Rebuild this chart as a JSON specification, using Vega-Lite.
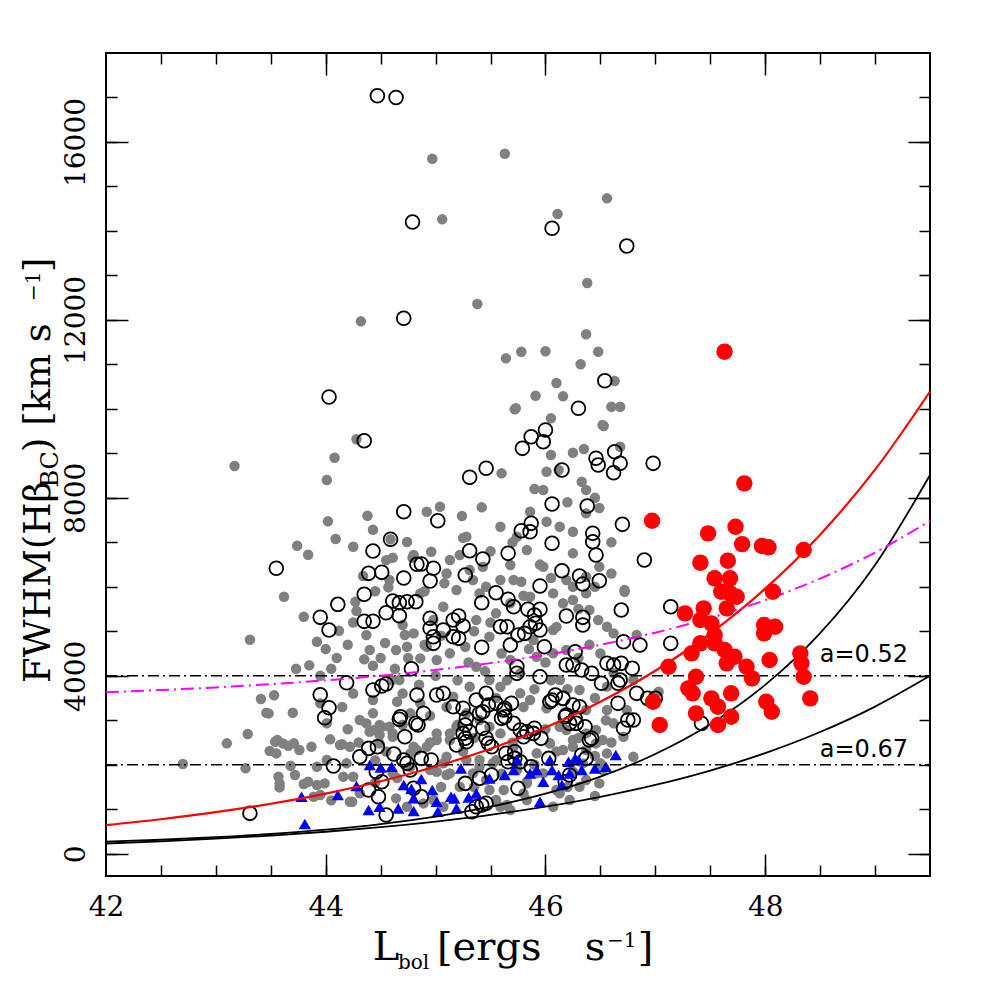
{
  "$schema": "https://vega.github.io/schema/vega-lite/v6.json",
  "autosize": {"type": "none"},
  "padding": {"left": 106, "top": 53, "right": 51, "bottom": 105},
  "width": 824,
  "height": 823,
  "background": "white",
  "config": {"view": {"stroke": "black", "strokeWidth": 2}, "font": "DejaVu Serif"},
  "datasets": {
    "gray": [
      {"x":44.97,"y":15624},{"x":45.63,"y":15736},{"x":46.56,"y":14733},{"x":46.11,"y":14380},{"x":45.06,"y":14261},{"x":46.38,"y":12829},{"x":45.38,"y":12357},{"x":44.32,"y":11968},{"x":46.37,"y":11676},{"x":45.78,"y":11285},{"x":45.64,"y":11136},{"x":46.00,"y":11294},{"x":46.48,"y":11285},{"x":46.32,"y":11002},{"x":46.63,"y":10626},{"x":46.10,"y":10581},{"x":45.91,"y":10296},{"x":46.16,"y":10282},{"x":45.73,"y":10013},{"x":46.60,"y":10049},{"x":46.68,"y":10049},{"x":43.17,"y":8715},{"x":44.28,"y":9316},{"x":44.08,"y":8902},{"x":44.01,"y":8401},{"x":44.38,"y":7598},{"x":44.02,"y":7472},{"x":44.43,"y":7284},{"x":44.09,"y":7075},{"x":44.59,"y":7068},{"x":44.74,"y":7007},{"x":43.74,"y":6924},{"x":43.84,"y":6722},{"x":44.61,"y":6654},{"x":44.79,"y":6654},{"x":44.58,"y":6153},{"x":44.34,"y":6243},{"x":44.57,"y":5989},{"x":43.62,"y":5777},{"x":44.27,"y":5665},{"x":44.28,"y":5456},{"x":43.80,"y":5328},{"x":44.12,"y":5013},{"x":44.70,"y":5141},{"x":43.31,"y":4811},{"x":43.92,"y":4766},{"x":44.37,"y":4916},{"x":44.40,"y":4579},{"x":44.54,"y":4737},{"x":44.64,"y":4579},{"x":44.72,"y":4916},{"x":44.35,"y":4370},{"x":44.43,"y":4226},{"x":43.73,"y":4159},{"x":43.85,"y":4235},{"x":44.05,"y":4159},{"x":44.63,"y":4159},{"x":43.41,"y":3478},{"x":43.53,"y":3561},{"x":43.46,"y":3170},{"x":43.70,"y":3170},{"x":44.65,"y":3417},{"x":44.44,"y":2781},{"x":44.51,"y":2855},{"x":44.40,"y":2743},{"x":43.10,"y":2482},{"x":43.29,"y":2691},{"x":43.49,"y":2309},{"x":43.56,"y":2556},{"x":43.66,"y":2428},{"x":43.71,"y":2482},{"x":43.76,"y":2331},{"x":43.87,"y":2405},{"x":44.04,"y":2572},{"x":44.15,"y":2459},{"x":42.70,"y":2016},{"x":43.27,"y":1920},{"x":43.68,"y":1978},{"x":43.92,"y":1956},{"x":43.57,"y":1731},{"x":43.58,"y":1492},{"x":43.80,"y":1567},{"x":43.99,"y":1582},{"x":43.89,"y":1281},{"x":44.24,"y":1169},
      {"x":45.72,"y":9990},{"x":46.05,"y":9787},{"x":46.52,"y":9637},{"x":46.25,"y":9015},{"x":46.05,"y":8963},{"x":45.60,"y":8551},{"x":46.01,"y":8588},{"x":46.12,"y":8626},{"x":46.33,"y":8363},{"x":45.98,"y":8176},{"x":46.37,"y":8176},{"x":45.04,"y":7802},{"x":44.92,"y":7689},{"x":45.24,"y":7592},{"x":45.42,"y":7787},{"x":45.86,"y":7689},{"x":46.01,"y":7464},{"x":46.13,"y":7352},{"x":46.25,"y":7240},{"x":44.80,"y":6715},{"x":44.96,"y":6790},{"x":45.13,"y":6603},{"x":45.22,"y":6715},{"x":45.31,"y":6378},{"x":45.68,"y":6490},{"x":45.71,"y":6153},{"x":45.78,"y":6116},{"x":45.59,"y":6153},{"x":45.46,"y":6003},{"x":45.40,"y":5853},{"x":45.34,"y":6153},{"x":45.08,"y":6078},{"x":45.19,"y":5928},{"x":45.07,"y":5554},{"x":44.86,"y":5853},{"x":46.72,"y":5928},{"x":46.07,"y":5853},{"x":46.16,"y":5629},{"x":46.25,"y":5704},{"x":46.37,"y":5853},{"x":46.40,"y":5479},{"x":46.48,"y":5254},{"x":46.56,"y":5104},{"x":46.62,"y":4954},{"x":46.07,"y":5029},{"x":45.55,"y":5404},{"x":45.37,"y":5254},{"x":45.49,"y":4879},{"x":45.27,"y":4655},{"x":45.13,"y":4505},{"x":45.01,"y":4355},{"x":44.86,"y":4392},{"x":44.74,"y":4655},{"x":45.68,"y":4355},{"x":45.92,"y":4430},{"x":46.07,"y":4505},{"x":46.19,"y":4580},{"x":45.49,"y":3905},{"x":45.31,"y":3755},{"x":45.16,"y":3531},{"x":44.86,"y":3381},{"x":44.77,"y":3156},{"x":45.77,"y":3606},{"x":45.86,"y":3456},{"x":46.01,"y":3268},{"x":45.49,"y":2856},{"x":45.59,"y":2706},{"x":45.13,"y":2706},{"x":45.01,"y":2557},{"x":44.92,"y":2407},{"x":44.83,"y":2332},{"x":45.07,"y":2032},{"x":45.40,"y":2107},{"x":45.52,"y":2032},{"x":45.62,"y":1433},{"x":45.74,"y":1882},{"x":45.83,"y":1583},{"x":46.46,"y":2781},{"x":46.52,"y":2557},{"x":46.62,"y":2931},{"x":46.74,"y":3231},{"x":46.56,"y":3231},{"x":46.50,"y":2032},{"x":46.25,"y":1845},{"x":46.37,"y":1657},{"x":46.13,"y":1358},{"x":45.83,"y":1208},{"x":45.59,"y":1058},{"x":45.68,"y":983},{"x":45.22,"y":1507},
      {"x":45.68,"y":5629},{"x":45.86,"y":5779},{"x":45.89,"y":4805},{"x":45.77,"y":4055},{"x":45.59,"y":3755},{"x":45.37,"y":4205},{"x":46.13,"y":3905},{"x":46.31,"y":3681},{"x":46.37,"y":3231},{"x":45.28,"y":3156},{"x":45.40,"y":3006},{"x":45.71,"y":2407},{"x":45.92,"y":2257},{"x":46.04,"y":2482},{"x":46.13,"y":2856},{"x":46.25,"y":2407},{"x":46.37,"y":2706},{"x":45.13,"y":1807},{"x":44.95,"y":1882},{"x":44.77,"y":1957},{"x":45.34,"y":1807},{"x":45.46,"y":1657},{"x":45.98,"y":1807},{"x":46.19,"y":2781},{"x":46.56,"y":3756},{"x":46.80,"y":3905},{"x":46.62,"y":4055},{"x":44.98,"y":5254},{"x":44.80,"y":4954},{"x":44.92,"y":4655},{"x":45.43,"y":6453},{"x":45.83,"y":6828},{"x":45.98,"y":6453},{"x":46.19,"y":6153},{"x":46.37,"y":6228},{"x":46.49,"y":6453},{"x":46.25,"y":6753},{"x":45.28,"y":7127},{"x":45.59,"y":7352},{"x":45.74,"y":7127},{"x":46.37,"y":7652},
      {"x":44.70,"y":3600},{"x":44.85,"y":3800},{"x":45.00,"y":4000},{"x":45.10,"y":3300},{"x":45.20,"y":3900},{"x":45.30,"y":4300},{"x":45.45,"y":4100},{"x":45.55,"y":3500},{"x":45.65,"y":3900},{"x":45.80,"y":3300},{"x":45.90,"y":3700},{"x":46.05,"y":3900},{"x":46.20,"y":3700},{"x":46.30,"y":4400},{"x":46.45,"y":3500},{"x":46.55,"y":3000},{"x":46.40,"y":4700},{"x":46.50,"y":4500},{"x":44.75,"y":4400},{"x":44.90,"y":4700},{"x":45.05,"y":4900},{"x":45.35,"y":5000},{"x":45.50,"y":5200},{"x":45.60,"y":4500},{"x":45.85,"y":4600},{"x":46.00,"y":4300},{"x":46.10,"y":5100},{"x":46.30,"y":5500},{"x":46.45,"y":6000},{"x":46.60,"y":6300},{"x":45.95,"y":6500},{"x":45.70,"y":7000},{"x":45.50,"y":6800},{"x":45.25,"y":7100},{"x":45.10,"y":6300},{"x":44.90,"y":5900},{"x":44.55,"y":6600},{"x":44.45,"y":5900},{"x":44.50,"y":4400},{"x":44.60,"y":3900},{"x":44.95,"y":3100},{"x":45.20,"y":2900},{"x":45.35,"y":2600},{"x":45.70,"y":2500},{"x":46.00,"y":2800},{"x":46.10,"y":2300},{"x":46.30,"y":2600},{"x":46.45,"y":2200},{"x":46.60,"y":2500},{"x":45.55,"y":2100},{"x":45.25,"y":2300},{"x":44.95,"y":2500},{"x":44.70,"y":2900},{"x":44.55,"y":2300},{"x":44.45,"y":2100},{"x":44.30,"y":2500},{"x":44.20,"y":2800},{"x":44.15,"y":3300},{"x":44.25,"y":3600},{"x":44.10,"y":4400},{"x":44.20,"y":4700},{"x":44.25,"y":5200},{"x":44.00,"y":4600},{"x":43.95,"y":4000},{"x":44.05,"y":1200},{"x":44.45,"y":1600},{"x":44.65,"y":1700},{"x":45.05,"y":1500},{"x":45.35,"y":1500},{"x":45.60,"y":1800},{"x":45.90,"y":2000},{"x":46.20,"y":1500},{"x":46.45,"y":1300},{"x":45.80,"y":5800},{"x":46.05,"y":6200},{"x":46.25,"y":6000},{"x":46.60,"y":7000},{"x":46.20,"y":7900},{"x":45.90,"y":8200},{"x":46.35,"y":9100},{"x":46.45,"y":8000},{"x":44.25,"y":6900},
      {"x":44.31,"y":3006},{"x":44.43,"y":3156},{"x":44.49,"y":2669},{"x":44.61,"y":2706},{"x":44.25,"y":1732},{"x":44.31,"y":1358},{"x":44.61,"y":1807},{"x":44.64,"y":1245},{"x":44.80,"y":2407},{"x":44.19,"y":2032},{"x":44.67,"y":3905},{"x":44.43,"y":3456},{"x":43.95,"y":3381},{"x":44.01,"y":2931},
      {"x":43.48,"y":3155},{"x":43.54,"y":2518},{"x":43.61,"y":2481},{"x":43.55,"y":2256},{"x":43.58,"y":1582},{"x":43.72,"y":1769},{"x":43.84,"y":1619},{"x":43.92,"y":1544},{"x":44.01,"y":2106},{"x":44.13,"y":2443},{"x":44.22,"y":2406},{"x":43.95,"y":1320},{"x":44.16,"y":1731},{"x":44.22,"y":1170},{"x":44.37,"y":2930},{"x":44.49,"y":2893},{"x":44.58,"y":2856},{"x":44.61,"y":2631},{"x":44.49,"y":2481},{"x":44.77,"y":2256},{"x":44.74,"y":1057},{"x":44.89,"y":1132},{"x":44.98,"y":1207},{"x":45.07,"y":1057},{"x":45.01,"y":1844},{"x":45.10,"y":1769},{"x":45.10,"y":2181},{"x":45.13,"y":2556},{"x":45.19,"y":2856},{"x":45.01,"y":2706},{"x":45.28,"y":2106},{"x":45.40,"y":1956},{"x":45.49,"y":1432},{"x":45.55,"y":1207},{"x":45.65,"y":1095},{"x":45.80,"y":1357},{"x":45.83,"y":1619},{"x":45.92,"y":1807},{"x":45.74,"y":1919},{"x":46.04,"y":2481},{"x":46.16,"y":2331},{"x":46.25,"y":2556},{"x":46.37,"y":2331},{"x":46.46,"y":2481},{"x":46.56,"y":2256},{"x":46.34,"y":2031},{"x":46.52,"y":1881},{"x":46.07,"y":1057},{"x":46.10,"y":1432},{"x":46.22,"y":1207},{"x":46.31,"y":1507},{"x":46.49,"y":1582},{"x":46.71,"y":2631},{"x":46.80,"y":2181},
      {"x":46.53,"y":9615},{"x":46.68,"y":9149},{"x":46.72,"y":5890},{"x":46.83,"y":4916},{"x":46.49,"y":7771},{"x":47.03,"y":3642}
    ],
    "open": [
      {"x":44.47,"y":17040},{"x":44.64,"y":17000},{"x":44.79,"y":14200},{"x":46.06,"y":14059},{"x":46.74,"y":13661},{"x":44.71,"y":12036},{"x":46.54,"y":10633},{"x":44.03,"y":10267},{"x":46.30,"y":10013},
      {"x":44.35,"y":9284},{"x":45.87,"y":9374},{"x":46.00,"y":9525},{"x":45.79,"y":9113},{"x":45.98,"y":9262},{"x":46.46,"y":8889},{"x":46.63,"y":9037},{"x":46.68,"y":8776},{"x":46.62,"y":8565},{"x":46.48,"y":8738},{"x":46.98,"y":8776},{"x":46.15,"y":8626},{"x":45.46,"y":8664},{"x":45.31,"y":8461},
      {"x":44.71,"y":7688},{"x":46.06,"y":7861},{"x":46.38,"y":7816},{"x":46.70,"y":7405},{"x":45.02,"y":7486},{"x":45.78,"y":7261},{"x":45.87,"y":7427},{"x":45.86,"y":7239},{"x":46.43,"y":7203},{"x":46.43,"y":7014},{"x":46.06,"y":6978},
      {"x":44.59,"y":7068},{"x":44.43,"y":6805},{"x":44.83,"y":6506},{"x":43.55,"y":6416},{"x":44.39,"y":6303},{"x":44.51,"y":6326},{"x":44.71,"y":6198},{"x":46.90,"y":6602},{"x":46.46,"y":6715},{"x":45.31,"y":6811},{"x":45.43,"y":6625},{"x":45.66,"y":6753},{"x":44.87,"y":6513},{"x":44.98,"y":6416},{"x":44.95,"y":6130},{"x":45.27,"y":6265},{"x":46.15,"y":6362},{"x":46.31,"y":6243},{"x":46.34,"y":6063},{"x":46.49,"y":6137},{"x":45.95,"y":6018},
      {"x":44.35,"y":5831},{"x":44.11,"y":5606},{"x":44.61,"y":5681},{"x":44.67,"y":5642},{"x":44.74,"y":5665},{"x":44.82,"y":5665},{"x":44.55,"y":5418},{"x":44.67,"y":5350},{"x":43.95,"y":5314},{"x":44.03,"y":5029},{"x":44.35,"y":5224},{"x":44.43,"y":5224},{"x":45.55,"y":5867},{"x":45.42,"y":5642},{"x":45.66,"y":5719},{"x":45.71,"y":5552},{"x":45.84,"y":5494},{"x":45.90,"y":5366},{"x":45.95,"y":5494},{"x":45.91,"y":5179},{"x":46.19,"y":5343},{"x":46.34,"y":5314},{"x":46.34,"y":5141},{"x":46.69,"y":5478},{"x":47.14,"y":5553},
      {"x":44.95,"y":5292},{"x":44.95,"y":5067},{"x":44.98,"y":4878},{"x":44.98,"y":4730},{"x":45.07,"y":5029},{"x":45.16,"y":5254},{"x":45.21,"y":5343},{"x":45.25,"y":5119},{"x":45.16,"y":4878},{"x":45.21,"y":4842},{"x":45.42,"y":4640},{"x":45.59,"y":5103},{"x":45.65,"y":5103},{"x":45.68,"y":4692},{"x":45.75,"y":4916},{"x":45.81,"y":4954},{"x":45.86,"y":5103},{"x":45.95,"y":5029},{"x":45.99,"y":4653},{"x":46.27,"y":4541},{"x":46.71,"y":4766},{"x":46.86,"y":4692},{"x":47.14,"y":4730},
      {"x":44.78,"y":4159},{"x":45.74,"y":4204},{"x":45.74,"y":4055},{"x":45.95,"y":3979},{"x":46.19,"y":4242},{"x":46.25,"y":4242},{"x":46.33,"y":4130},{"x":46.42,"y":4055},{"x":46.56,"y":4280},{"x":46.62,"y":4242},{"x":46.69,"y":4280},{"x":46.79,"y":4168},{"x":46.68,"y":3905},
      {"x":44.19,"y":3844},{"x":44.43,"y":3680},{"x":44.51,"y":3770},{"x":44.55,"y":3815},{"x":43.95,"y":3574},{"x":44.83,"y":3568},{"x":45.01,"y":3568},{"x":45.07,"y":3606},{"x":46.51,"y":3831},{"x":46.66,"y":3831},{"x":46.83,"y":3606},{"x":46.93,"y":3493},{"x":47.00,"y":3493},
      {"x":44.03,"y":3282},{"x":43.99,"y":3057},{"x":44.67,"y":3021},{"x":44.72,"y":2630},{"x":44.82,"y":2931},{"x":44.68,"y":3080},{"x":44.89,"y":3156},{"x":44.84,"y":2893},{"x":45.37,"y":3455},{"x":45.43,"y":3192},{"x":45.46,"y":3606},{"x":45.40,"y":3156},{"x":45.48,"y":3343},{"x":45.63,"y":3269},{"x":45.63,"y":3080},{"x":45.71,"y":2931},{"x":45.77,"y":2781},{"x":45.83,"y":2743},{"x":45.90,"y":2819},{"x":45.96,"y":2594},{"x":46.06,"y":3455},{"x":46.09,"y":3568},{"x":46.16,"y":3493},{"x":46.25,"y":3343},{"x":46.18,"y":3080},{"x":46.22,"y":2931},{"x":46.28,"y":2931},{"x":46.36,"y":2855},{"x":46.42,"y":2594},{"x":46.66,"y":3381},{"x":46.80,"y":3006},{"x":46.71,"y":2819},{"x":46.75,"y":3006},{"x":47.42,"y":2931},{"x":45.28,"y":3044},{"x":45.27,"y":2893},{"x":45.31,"y":2743},{"x":45.27,"y":2594},{"x":45.19,"y":2443},{"x":45.16,"y":3305},{"x":45.25,"y":3269},{"x":45.62,"y":3231},{"x":45.60,"y":3044},{"x":45.55,"y":3381},{"x":45.69,"y":3381},{"x":46.04,"y":3417},{"x":46.31,"y":3305},{"x":46.19,"y":3118},{"x":46.27,"y":3044},
      {"x":44.39,"y":2369},{"x":44.47,"y":2405},{"x":44.31,"y":2180},{"x":44.62,"y":2241},{"x":44.71,"y":2106},{"x":44.07,"y":1971},{"x":44.87,"y":2144},{"x":44.96,"y":2106},{"x":44.74,"y":2032},{"x":44.77,"y":1882},{"x":44.46,"y":1843},{"x":44.51,"y":1619},{"x":44.39,"y":1432},{"x":44.48,"y":1281},{"x":44.55,"y":870},{"x":43.31,"y":908},
      {"x":45.64,"y":2257},{"x":45.72,"y":2293},{"x":45.46,"y":2594},{"x":45.48,"y":2482},{"x":45.43,"y":2819},{"x":45.51,"y":2405},{"x":45.25,"y":2706},{"x":45.28,"y":2518},{"x":45.72,"y":2144},{"x":45.66,"y":2068},{"x":45.77,"y":2068},{"x":45.87,"y":1956},{"x":46.03,"y":2144},{"x":46.33,"y":2219},{"x":46.37,"y":2144},{"x":46.40,"y":2556},{"x":45.80,"y":2630},{"x":45.89,"y":2706},
      {"x":45.27,"y":1582},{"x":45.40,"y":1695},{"x":45.37,"y":1057},{"x":45.42,"y":1095},{"x":45.51,"y":1769},{"x":45.75,"y":1470},{"x":46.18,"y":1619},{"x":46.22,"y":1769},{"x":45.33,"y":944},{"x":45.46,"y":1133},{"x":44.80,"y":1470},{"x":44.87,"y":1281}
    ],
    "tri": [
      {"x":43.78,"y":1281},{"x":43.81,"y":668},{"x":44.11,"y":1320},{"x":44.28,"y":1522},{"x":44.40,"y":1994},{"x":44.50,"y":1940},{"x":44.60,"y":1956},{"x":44.39,"y":982},{"x":44.49,"y":1057},{"x":44.66,"y":1020},{"x":44.80,"y":960},{"x":45.02,"y":944},{"x":45.19,"y":1020},{"x":44.71,"y":1544},{"x":44.78,"y":1460},{"x":44.87,"y":1680},{"x":44.97,"y":1432},{"x":44.80,"y":1250},{"x":45.01,"y":1169},{"x":45.17,"y":1245},{"x":45.30,"y":1268},{"x":45.37,"y":1358},{"x":45.23,"y":1920},{"x":45.49,"y":1695},{"x":45.63,"y":1769},{"x":45.71,"y":1882},{"x":45.74,"y":2106},{"x":45.86,"y":1807},{"x":45.98,"y":1619},{"x":46.06,"y":1882},{"x":46.12,"y":1769},{"x":46.21,"y":2068},{"x":46.30,"y":2106},{"x":46.33,"y":1882},{"x":46.45,"y":1920},{"x":46.55,"y":1956},{"x":46.64,"y":2219},{"x":45.95,"y":1169},{"x":46.04,"y":2106},{"x":46.15,"y":1544},{"x":46.22,"y":1807},{"x":45.14,"y":1281},{"x":45.92,"y":1882},{"x":46.27,"y":2144}
    ],
    "red": [
      {"x":47.63,"y":11286},{"x":47.81,"y":8326},{"x":46.97,"y":7487},{"x":47.48,"y":7202},{"x":47.73,"y":7352},{"x":47.79,"y":6960},{"x":47.97,"y":6917},{"x":48.03,"y":6888},{"x":48.35,"y":6828},{"x":47.41,"y":6543},{"x":47.66,"y":6588},{"x":47.54,"y":6191},{"x":47.68,"y":6191},{"x":47.60,"y":5891},{"x":47.68,"y":5853},{"x":47.74,"y":5778},{"x":47.65,"y":5516},{"x":47.27,"y":5404},{"x":47.44,"y":5516},{"x":47.41,"y":5254},{"x":47.51,"y":5179},{"x":48.07,"y":5891},{"x":47.54,"y":4917},{"x":47.54,"y":4730},{"x":47.99,"y":5142},{"x":48.09,"y":5104},{"x":47.99,"y":4954},{"x":47.41,"y":4730},{"x":47.33,"y":4505},{"x":47.63,"y":4580},{"x":47.65,"y":4280},{"x":47.72,"y":4430},{"x":47.83,"y":4205},{"x":47.88,"y":3943},{"x":48.32,"y":4505},{"x":48.33,"y":4280},{"x":48.35,"y":3980},{"x":48.04,"y":4355},{"x":47.12,"y":4205},{"x":47.37,"y":3980},{"x":47.30,"y":3718},{"x":47.34,"y":3606},{"x":48.41,"y":3493},{"x":46.98,"y":3418},{"x":47.04,"y":2894},{"x":47.69,"y":3606},{"x":47.51,"y":3493},{"x":47.57,"y":3306},{"x":48.01,"y":3418},{"x":48.06,"y":3193},{"x":47.37,"y":3156},{"x":47.57,"y":2894},{"x":47.69,"y":3081}
    ],
    "redcurve": [
      {"x":42,"y":645},{"x":42.5,"y":776},{"x":43,"y":934},{"x":43.5,"y":1124},{"x":44,"y":1353},{"x":44.5,"y":1629},{"x":45,"y":1960},{"x":45.5,"y":2359},{"x":46,"y":2840},{"x":46.5,"y":3418},{"x":47,"y":4114},{"x":47.5,"y":4951},{"x":48,"y":5959},{"x":48.5,"y":7173},{"x":49,"y":8633},{"x":49.5,"y":10391}
    ],
    "magcurve": [
      {"x":42,"y":3632},{"x":42.5,"y":3681},{"x":43,"y":3740},{"x":43.5,"y":3812},{"x":44,"y":3899},{"x":44.5,"y":4004},{"x":45,"y":4131},{"x":45.5,"y":4285},{"x":46,"y":4471},{"x":46.5,"y":4697},{"x":47,"y":4970},{"x":47.5,"y":5300},{"x":48,"y":5701},{"x":48.5,"y":6185},{"x":49,"y":6771},{"x":49.5,"y":7482}
    ],
    "blackcurves": [
      {"s":"a","x":42,"y":273},{"s":"a","x":42.5,"y":315},{"s":"a","x":43,"y":371},{"s":"a","x":43.5,"y":444},{"s":"a","x":44,"y":541},{"s":"a","x":44.5,"y":668},{"s":"a","x":45,"y":836},{"s":"a","x":45.5,"y":1058},{"s":"a","x":46,"y":1350},{"s":"a","x":46.5,"y":1735},{"s":"a","x":47,"y":2243},{"s":"a","x":47.5,"y":2912},{"s":"a","x":48,"y":3795},{"s":"a","x":48.5,"y":4958},{"s":"a","x":49,"y":6492},{"s":"a","x":49.5,"y":8513},
      {"s":"b","x":42,"y":231},{"s":"b","x":42.5,"y":280},{"s":"b","x":43,"y":338},{"s":"b","x":43.5,"y":409},{"s":"b","x":44,"y":495},{"s":"b","x":44.5,"y":598},{"s":"b","x":45,"y":724},{"s":"b","x":45.5,"y":875},{"s":"b","x":46,"y":1058},{"s":"b","x":46.5,"y":1280},{"s":"b","x":47,"y":1547},{"s":"b","x":47.5,"y":1871},{"s":"b","x":48,"y":2262},{"s":"b","x":48.5,"y":2736},{"s":"b","x":49,"y":3308},{"s":"b","x":49.5,"y":4000}
    ],
    "hlines": [
      {"s":"u","x":42,"y":4000},{"s":"u","x":49.5,"y":4000},{"s":"l","x":42,"y":2000},{"s":"l","x":49.5,"y":2000}
    ],
    "alabels": [
      {"x":48.497,"y":4310,"t":"a=0.52"},{"x":48.497,"y":2180,"t":"a=0.67"}
    ],
    "xtmain": [
      {"x":44.429,"y":-2390,"t":"L"},{"x":45.012,"y":-2390,"t":"[ergs"},{"x":46.358,"y":-2390,"t":"s"},{"x":46.841,"y":-2390,"t":"]"}
    ],
    "xtsub": [
      {"x":44.657,"y":-2592,"t":"bol"}
    ],
    "xtsup": [
      {"x":46.559,"y":-2097,"t":"−1"}
    ],
    "ytmain": [
      {"x":41.49,"y":3837,"t":"FWHM(Hβ"},{"x":41.49,"y":9030,"t":")  [km  s"},{"x":41.49,"y":13078,"t":"]"}
    ],
    "ytsub": [
      {"x":41.563,"y":8231,"t":"BC"}
    ],
    "ytsup": [
      {"x":41.399,"y":12425,"t":"−1"}
    ]
  },
  "resolve": {"axis": {"x": "independent", "y": "independent"}},
  "layer": [
    {
      "data": {"name": "gray"},
      "mark": {"type": "point", "shape": "circle", "filled": true, "color": "#808080", "size": 110, "opacity": 1, "strokeWidth": 0},
      "encoding": {
        "x": {"field": "x", "type": "quantitative", "scale": {"domain": [42, 49.5], "nice": false, "zero": false},
              "axis": {"orient": "bottom", "values": [42, 44, 46, 48], "ticks": false, "domain": false, "grid": false, "title": null, "labelFont": "DejaVu Serif", "labelFontSize": 28, "labelColor": "black", "labelPadding": 17, "labelBaseline": "top", "labelFlush": false}},
        "y": {"field": "y", "type": "quantitative", "scale": {"domain": [-500, 18000], "nice": false, "zero": false},
              "axis": {"orient": "left", "values": [0, 4000, 8000, 12000, 16000], "ticks": false, "domain": false, "grid": false, "title": null, "labelFont": "DejaVu Serif", "labelFontSize": 28, "labelColor": "black", "labelAngle": 270, "labelAlign": "center", "labelBaseline": "alphabetic", "labelPadding": 22, "labelFlush": false, "format": "d"}}
      }
    },
    {
      "data": {"name": "open"},
      "mark": {"type": "point", "shape": "circle", "filled": false, "stroke": "black", "strokeWidth": 1.8, "size": 190, "opacity": 1},
      "encoding": {
        "x": {"field": "x", "type": "quantitative", "scale": {"domain": [42, 49.5], "nice": false, "zero": false},
              "axis": {"orient": "bottom", "values": [42.5, 43, 43.5, 44, 44.5, 45, 45.5, 46, 46.5, 47, 47.5, 48, 48.5, 49], "tickSize": -11, "tickWidth": 1.5, "tickColor": "black", "labels": false, "domain": false, "grid": false, "title": null}},
        "y": {"field": "y", "type": "quantitative", "scale": {"domain": [-500, 18000], "nice": false, "zero": false},
              "axis": {"orient": "left", "values": [0, 1000, 2000, 3000, 4000, 5000, 6000, 7000, 8000, 9000, 10000, 11000, 12000, 13000, 14000, 15000, 16000, 17000], "tickSize": -11, "tickWidth": 1.5, "tickColor": "black", "labels": false, "domain": false, "grid": false, "title": null}}
      }
    },
    {
      "data": {"name": "tri"},
      "mark": {"type": "point", "shape": "triangle-up", "filled": true, "color": "#0000ff", "size": 150, "opacity": 1, "strokeWidth": 0},
      "encoding": {
        "x": {"field": "x", "type": "quantitative", "scale": {"domain": [42, 49.5], "nice": false, "zero": false},
              "axis": {"orient": "bottom", "values": [44, 46, 48], "tickSize": -22, "tickWidth": 1.5, "tickColor": "black", "labels": false, "domain": false, "grid": false, "title": null}},
        "y": {"field": "y", "type": "quantitative", "scale": {"domain": [-500, 18000], "nice": false, "zero": false},
              "axis": {"orient": "left", "values": [0, 4000, 8000, 12000, 16000], "tickSize": -22, "tickWidth": 1.5, "tickColor": "black", "labels": false, "domain": false, "grid": false, "title": null}}
      }
    },
    {
      "data": {"name": "hlines"},
      "mark": {"type": "line", "color": "black", "strokeWidth": 1.5, "strokeDash": [11, 4, 2, 4]},
      "encoding": {
        "x": {"field": "x", "type": "quantitative", "scale": {"domain": [42, 49.5], "nice": false, "zero": false},
              "axis": {"orient": "top", "values": [42.5, 43, 43.5, 44, 44.5, 45, 45.5, 46, 46.5, 47, 47.5, 48, 48.5, 49], "tickSize": -11, "tickWidth": 1.5, "tickColor": "black", "labels": false, "domain": false, "grid": false, "title": null}},
        "y": {"field": "y", "type": "quantitative", "scale": {"domain": [-500, 18000], "nice": false, "zero": false},
              "axis": {"orient": "right", "values": [0, 1000, 2000, 3000, 4000, 5000, 6000, 7000, 8000, 9000, 10000, 11000, 12000, 13000, 14000, 15000, 16000, 17000], "tickSize": -11, "tickWidth": 1.5, "tickColor": "black", "labels": false, "domain": false, "grid": false, "title": null}},
        "detail": {"field": "s", "type": "nominal"}
      }
    },
    {
      "data": {"name": "blackcurves"},
      "mark": {"type": "line", "color": "black", "strokeWidth": 1.8, "interpolate": "monotone"},
      "encoding": {
        "x": {"field": "x", "type": "quantitative", "scale": {"domain": [42, 49.5], "nice": false, "zero": false},
              "axis": {"orient": "top", "values": [44, 46, 48], "tickSize": -22, "tickWidth": 1.5, "tickColor": "black", "labels": false, "domain": false, "grid": false, "title": null}},
        "y": {"field": "y", "type": "quantitative", "scale": {"domain": [-500, 18000], "nice": false, "zero": false},
              "axis": {"orient": "right", "values": [0, 4000, 8000, 12000, 16000], "tickSize": -22, "tickWidth": 1.5, "tickColor": "black", "labels": false, "domain": false, "grid": false, "title": null}},
        "detail": {"field": "s", "type": "nominal"}
      }
    },
    {
      "data": {"name": "redcurve"},
      "mark": {"type": "line", "color": "#ff0000", "strokeWidth": 2.2, "interpolate": "monotone"},
      "encoding": {
        "x": {"field": "x", "type": "quantitative", "axis": null},
        "y": {"field": "y", "type": "quantitative", "axis": null}
      }
    },
    {
      "data": {"name": "magcurve"},
      "mark": {"type": "line", "color": "#ff00ff", "strokeWidth": 2, "strokeDash": [13, 5, 2, 5], "interpolate": "monotone"},
      "encoding": {
        "x": {"field": "x", "type": "quantitative", "axis": null},
        "y": {"field": "y", "type": "quantitative", "axis": null}
      }
    },
    {
      "data": {"name": "red"},
      "mark": {"type": "point", "shape": "circle", "filled": true, "color": "#ff0000", "size": 270, "opacity": 1, "strokeWidth": 0},
      "encoding": {
        "x": {"field": "x", "type": "quantitative", "axis": null},
        "y": {"field": "y", "type": "quantitative", "axis": null}
      }
    },
    {
      "data": {"name": "alabels"},
      "mark": {"type": "text", "font": "DejaVu Sans", "fontSize": 24, "color": "black", "align": "left", "baseline": "alphabetic"},
      "encoding": {
        "x": {"field": "x", "type": "quantitative", "axis": null},
        "y": {"field": "y", "type": "quantitative", "axis": null},
        "text": {"field": "t"}
      }
    },
    {
      "data": {"name": "xtmain"},
      "mark": {"type": "text", "font": "DejaVu Serif", "fontSize": 40, "color": "black", "align": "left", "baseline": "alphabetic"},
      "encoding": {
        "x": {"field": "x", "type": "quantitative", "axis": null},
        "y": {"field": "y", "type": "quantitative", "axis": null},
        "text": {"field": "t"}
      }
    },
    {
      "data": {"name": "xtsub"},
      "mark": {"type": "text", "font": "DejaVu Serif", "fontSize": 20, "color": "black", "align": "left", "baseline": "alphabetic"},
      "encoding": {
        "x": {"field": "x", "type": "quantitative", "axis": null},
        "y": {"field": "y", "type": "quantitative", "axis": null},
        "text": {"field": "t"}
      }
    },
    {
      "data": {"name": "xtsup"},
      "mark": {"type": "text", "font": "DejaVu Serif", "fontSize": 20, "color": "black", "align": "left", "baseline": "alphabetic"},
      "encoding": {
        "x": {"field": "x", "type": "quantitative", "axis": null},
        "y": {"field": "y", "type": "quantitative", "axis": null},
        "text": {"field": "t"}
      }
    },
    {
      "data": {"name": "ytmain"},
      "mark": {"type": "text", "font": "DejaVu Serif", "fontSize": 37, "color": "black", "align": "left", "baseline": "alphabetic", "angle": 270},
      "encoding": {
        "x": {"field": "x", "type": "quantitative", "axis": null},
        "y": {"field": "y", "type": "quantitative", "axis": null},
        "text": {"field": "t"}
      }
    },
    {
      "data": {"name": "ytsub"},
      "mark": {"type": "text", "font": "DejaVu Serif", "fontSize": 24, "color": "black", "align": "left", "baseline": "alphabetic", "angle": 270},
      "encoding": {
        "x": {"field": "x", "type": "quantitative", "axis": null},
        "y": {"field": "y", "type": "quantitative", "axis": null},
        "text": {"field": "t"}
      }
    },
    {
      "data": {"name": "ytsup"},
      "mark": {"type": "text", "font": "DejaVu Serif", "fontSize": 20, "color": "black", "align": "left", "baseline": "alphabetic", "angle": 270},
      "encoding": {
        "x": {"field": "x", "type": "quantitative", "axis": null},
        "y": {"field": "y", "type": "quantitative", "axis": null},
        "text": {"field": "t"}
      }
    }
  ]
}
